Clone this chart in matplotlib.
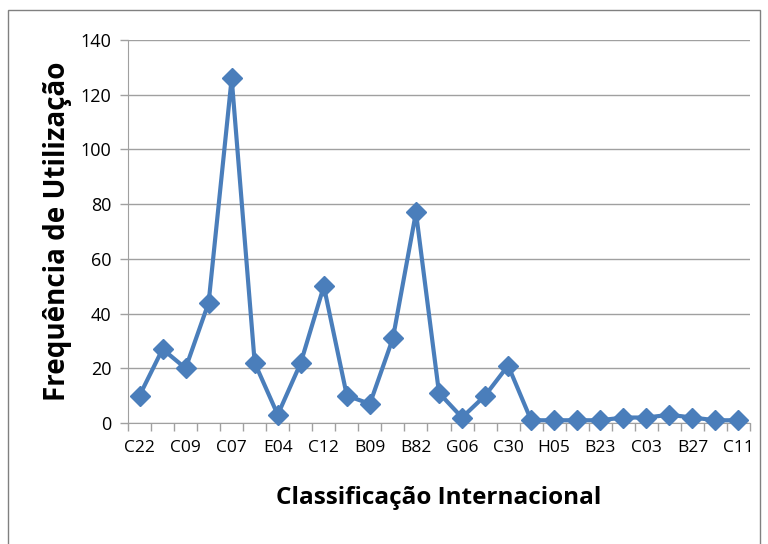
import matplotlib
matplotlib.use("Agg")
import matplotlib.pyplot as plt
from matplotlib.patches import Rectangle
import numpy as np

categories = ["C22", "", "C09", "", "C07", "", "E04", "", "C12", "", "B09", "", "B82", "",
              "G06", "", "C30", "", "H05", "", "B23", "", "C03", "", "B27", "", "C11"]
values = [10, 27, 20, 44, 126, 22, 3, 22, 50, 10, 7, 31, 77, 11, 2, 10, 21,
          1, 1, 1, 1, 2, 2, 3, 2, 1, 1]
yticks = [0, 20, 40, 60, 80, 100, 120, 140]

plt.rcParams['font.family'] = ['Open Sans', 'DejaVu Sans']

fig = plt.figure(figsize=(7.68, 5.44), dpi=100)
fig.patches.append(Rectangle((8/768, -2/544), 752/768, 536/544, transform=fig.transFigure,
                             fill=False, edgecolor='#808080', linewidth=1))
ax = fig.add_axes([128/768, 1 - 423/544, 622/768, 383/544])

x = np.arange(len(values))
ax.plot(x, values, color='#4A7EBB', linewidth=3, marker='D', markersize=10,
        markerfacecolor='#4A7EBB', markeredgecolor='#4A7EBB', clip_on=False, zorder=3)

ax.set_xlim(-0.5, len(values) - 0.5)
ax.set_ylim(0, 140)
ax.set_yticks(yticks)
ax.set_xticks(x)
ax.set_xticklabels(categories, fontsize=12.5)
ax.tick_params(axis='x', which='major', length=0, pad=12)
ax.set_xticks(np.arange(-0.5, len(values)), minor=True)
ax.tick_params(axis='x', which='minor', length=6, color='#A0A0A0', width=1)
ax.tick_params(axis='y', length=6, color='#A0A0A0', width=1, labelsize=13, pad=6)
ax.grid(axis='y', color='#A0A0A0', linewidth=1)
ax.set_axisbelow(True)
for s in ['top', 'right']:
    ax.spines[s].set_visible(False)
for s in ['left', 'bottom']:
    ax.spines[s].set_color('#A0A0A0')
ax.set_ylabel('Frequência de Utilização', fontsize=20, fontweight='bold', labelpad=6)
ax.set_xlabel('Classificação Internacional', fontsize=17.5, fontweight='bold', labelpad=22)

fig.savefig('out.png', dpi=100)
